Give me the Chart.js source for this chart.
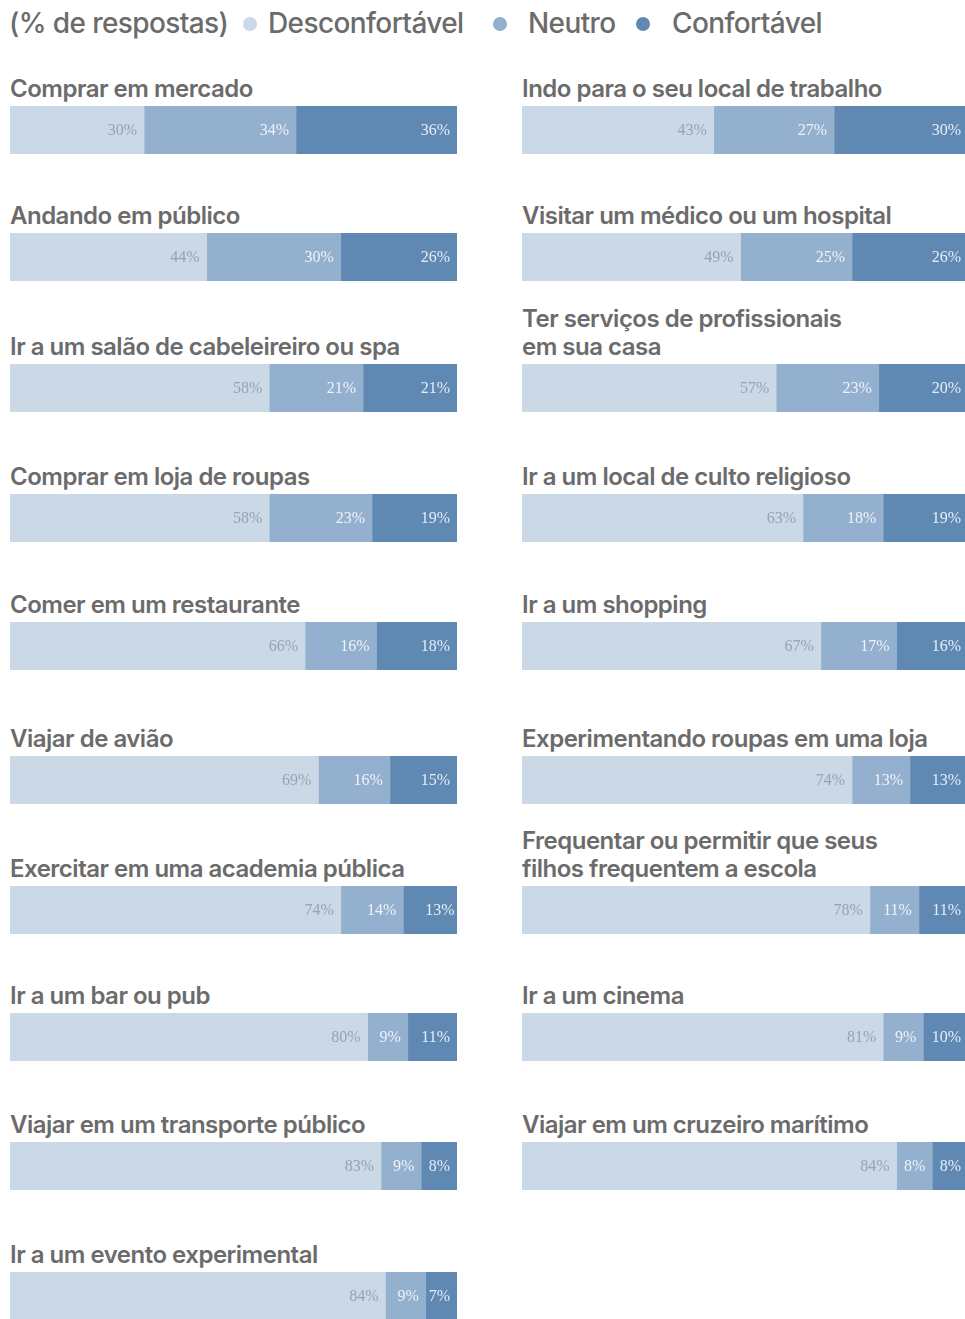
<!DOCTYPE html>
<html lang="pt">
<head>
  <meta charset="UTF-8">
  <title>Conforto em atividades</title>
  <script src="https://cdn.jsdelivr.net/npm/chart.js"></script>
  <style>
    html, body {
      margin: 0;
      padding: 0;
      background: #fff;
      overflow: hidden;
    }
    #page {
      position: relative;
      width: 965px;
      height: 1319px;
      overflow: hidden;
      font-family: Inter, "Open Sans", sans-serif;
      color: #6b6b6b;
    }
    .legend-item {
      position: absolute;
      top: 4px;
      font-size: 28px;
      font-weight: 500;
      letter-spacing: -0.6px;
      line-height: 38px;
      white-space: nowrap;
    }
    .dot {
      position: absolute;
      top: 17px;
      width: 14px;
      height: 14px;
      border-radius: 50%;
    }
    .title {
      position: absolute;
      font-size: 24px;
      font-weight: 600;
      letter-spacing: -0.5px;
      line-height: 28px;
      white-space: nowrap;
    }
    canvas {
      position: absolute;
    }
  </style>
</head>
<body>
<div id="page"></div>

<script>
  // categorias e valores (% de respostas)
  const seriesNames = ['Desconfortável', 'Neutro', 'Confortável'];
  const seriesColors = ['#cbd8e6', '#93b0ce', '#5f88b3'];
  const labelColors = ['#97a3b1', '#eef3f8', '#e6edf5'];

  const leftTitles = [
    'Comprar em mercado',
    'Andando em público',
    'Ir a um salão de cabeleireiro ou spa',
    'Comprar em loja de roupas',
    'Comer em um restaurante',
    'Viajar de avião',
    'Exercitar em uma academia pública',
    'Ir a um bar ou pub',
    'Viajar em um transporte público',
    'Ir a um evento experimental'
  ];
  const leftDesconf = [30, 44, 58, 58, 66, 69, 74, 80, 83, 84];
  const leftNeutro  = [34, 30, 21, 23, 16, 16, 14,  9,  9,  9];
  const leftConf    = [36, 26, 21, 19, 18, 15, 13, 11,  8,  7];

  const rightTitles = [
    'Indo para o seu local de trabalho',
    'Visitar um médico ou um hospital',
    ['Ter serviços de profissionais', 'em sua casa'],
    'Ir a um local de culto religioso',
    'Ir a um shopping',
    'Experimentando roupas em uma loja',
    ['Frequentar ou permitir que seus', 'filhos frequentem a escola'],
    'Ir a um cinema',
    'Viajar em um cruzeiro marítimo'
  ];
  const rightDesconf = [43, 49, 57, 63, 67, 74, 78, 81, 84];
  const rightNeutro  = [27, 25, 23, 18, 17, 13, 11,  9,  8];
  const rightConf    = [30, 26, 20, 19, 16, 13, 11, 10,  8];

  // layout das linhas
  const rowTops = [106, 233, 364, 494, 622, 756, 886, 1013, 1142, 1272];
  const barHeight = 48;
  const page = document.getElementById('page');

  // legenda do topo
  function addText(cls, text, left) {
    const el = document.createElement('div');
    el.className = cls;
    el.textContent = text;
    el.style.left = left + 'px';
    page.appendChild(el);
  }
  function addDot(color, left) {
    const d = document.createElement('div');
    d.className = 'dot';
    d.style.left = left + 'px';
    d.style.background = color;
    page.appendChild(d);
  }
  addText('legend-item', '(% de respostas)', 9);
  addDot(seriesColors[0], 243);
  addText('legend-item', seriesNames[0], 268);
  addDot(seriesColors[1], 493);
  addText('legend-item', seriesNames[1], 528);
  addDot(seriesColors[2], 636);
  addText('legend-item', seriesNames[2], 672);

  // rótulos de valor dentro de cada segmento
  const valueLabels = {
    id: 'valueLabels',
    afterDatasetsDraw(chart) {
      const ctx = chart.ctx;
      ctx.save();
      ctx.font = '16px "Liberation Serif", serif';
      ctx.textAlign = 'right';
      ctx.textBaseline = 'middle';
      chart.data.datasets.forEach((ds, i) => {
        const meta = chart.getDatasetMeta(i);
        meta.data.forEach((bar, j) => {
          ctx.fillStyle = labelColors[i];
          ctx.fillText(ds.data[j] + '%', bar.x - 7, bar.y + 1);
        });
      });
      ctx.restore();
    }
  };

  function addPanel(title, values, left, top, width) {
    const lines = Array.isArray(title) ? title : [title];
    const t = document.createElement('div');
    t.className = 'title';
    t.innerHTML = lines.join('<br>');
    t.style.left = left + 'px';
    t.style.top = (top - 31 - (lines.length - 1) * 28) + 'px';
    page.appendChild(t);

    const canvas = document.createElement('canvas');
    canvas.width = width;
    canvas.height = barHeight;
    canvas.style.left = left + 'px';
    canvas.style.top = top + 'px';
    page.appendChild(canvas);

    new Chart(canvas, {
      type: 'bar',
      data: {
        labels: [lines.join(' ')],
        datasets: values.map((v, i) => ({
          label: seriesNames[i],
          data: [v],
          backgroundColor: seriesColors[i],
          borderWidth: 0,
          barPercentage: 1,
          categoryPercentage: 1
        }))
      },
      options: {
        indexAxis: 'y',
        responsive: false,
        animation: false,
        layout: { padding: 0 },
        plugins: {
          legend: { display: false },
          tooltip: { enabled: false }
        },
        scales: {
          x: { stacked: true, min: 0, max: 100, display: false },
          y: { stacked: true, display: false }
        }
      },
      plugins: [valueLabels]
    });
  }

  leftTitles.forEach((title, i) => {
    addPanel(title, [leftDesconf[i], leftNeutro[i], leftConf[i]], 10, rowTops[i], 447);
  });
  rightTitles.forEach((title, i) => {
    addPanel(title, [rightDesconf[i], rightNeutro[i], rightConf[i]], 522, rowTops[i], 446);
  });
</script>
</body>
</html>
